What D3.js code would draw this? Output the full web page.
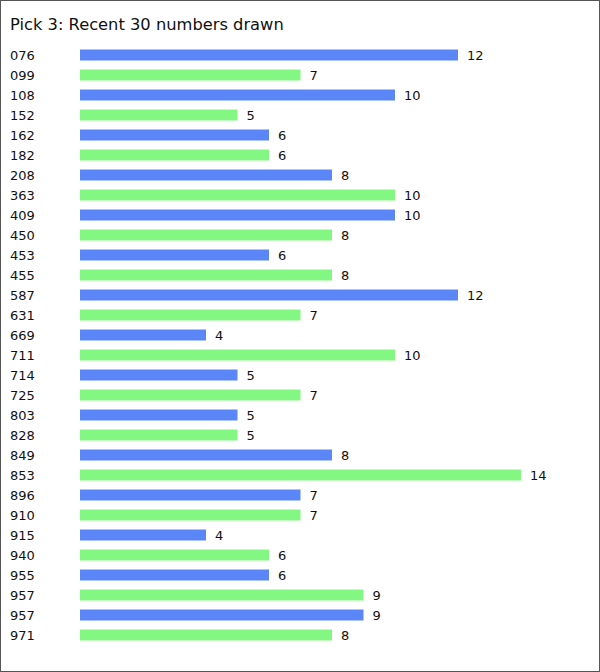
<!DOCTYPE html>
<html><head><meta charset="utf-8">
<script src="https://cdn.jsdelivr.net/npm/d3@7"></script>
<style>
body{margin:0;background:#fff;}
svg{display:block;font-family:"DejaVu Sans",Verdana,sans-serif;}
</style></head>
<body><svg id="c" width="600" height="672"></svg>
<script>
const numbers = ["076","099","108","152","162","182","208","363","409","450","453","455","587","631","669","711","714","725","803","828","849","853","896","910","915","940","955","957","957","971"];
const counts = [12,7,10,5,6,6,8,10,10,8,6,8,12,7,4,10,5,7,5,5,8,14,7,7,4,6,6,9,9,8];
const colors = ["#5a86f8","#82f782"];
const title = "Pick 3: Recent 30 numbers drawn";

const svg = d3.select("#c");
svg.append("rect").attr("x",0.5).attr("y",0.5).attr("width",599).attr("height",671)
  .attr("fill","#fff").attr("stroke","#555");
svg.append("text").attr("x",10).attr("y",30).attr("font-size",16.3).attr("fill","#111").text(title);

const idx = d3.range(numbers.length);
const x = d3.scaleLinear().domain([0,14]).range([80,521]);
const y = d3.scaleBand().domain(idx).range([45,645]).paddingInner(0.45).paddingOuter(0.225);

const g = svg.append("g");
g.selectAll("rect.bar").data(idx).join("rect").attr("class","bar")
  .attr("x",x(0)).attr("y",i=>y(i)).attr("height",y.bandwidth())
  .attr("width",i=>x(counts[i])-x(0)).attr("fill",i=>colors[i%2]);
g.selectAll("text.lab").data(idx).join("text").attr("class","lab")
  .attr("x",10).attr("y",i=>y(i)+y.bandwidth()/2).attr("dy","0.36em")
  .attr("font-size",13).attr("fill","#111").text(i=>numbers[i]);
g.selectAll("text.val").data(idx).join("text").attr("class","val")
  .attr("x",i=>x(counts[i])+9).attr("y",i=>y(i)+y.bandwidth()/2).attr("dy","0.36em")
  .attr("font-size",13).attr("fill","#111").text(i=>counts[i]);
</script></body></html>
